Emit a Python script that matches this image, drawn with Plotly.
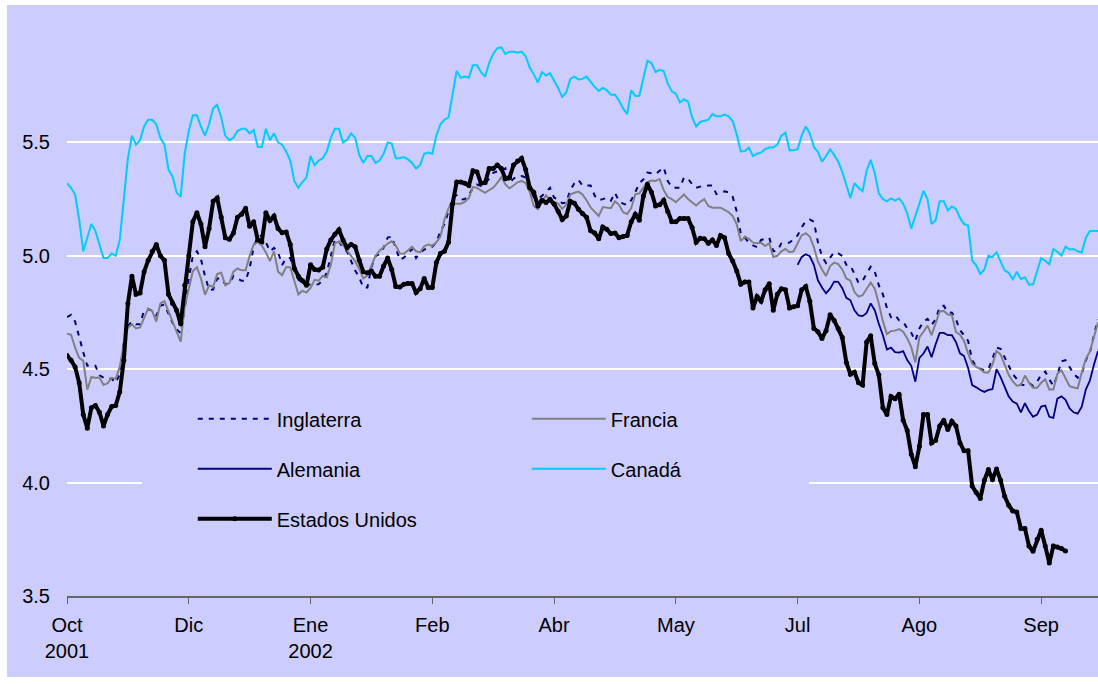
import plotly.graph_objects as go

# Category axis: one position per trading day, labelled every 30 days
meses = ["Oct<br>2001", "Dic", "Ene<br>2002", "Feb", "Abr", "May", "Jul", "Ago", "Sep"]
posiciones_meses = [0, 30, 60, 90, 120, 150, 180, 210, 240]

inglaterra = [
    4.73, 4.74, 4.71, 4.64, 4.575, 4.515, 4.52, 4.515, 4.473, 4.463,
    4.457, 4.458, 4.44, 4.48, 4.62, 4.69, 4.71, 4.698, 4.698, 4.76,
    4.764, 4.758, 4.735, 4.78, 4.785, 4.745, 4.705, 4.675, 4.66, 4.765,
    4.90, 5.00, 5.02, 4.985, 4.91, 4.85, 4.851, 4.90, 4.90, 4.874,
    4.88, 4.91, 4.90, 4.89, 4.89, 4.945, 5.04, 5.085, 5.09, 5.06,
    5.02, 5.035, 5.015, 4.96, 4.99, 4.99, 4.935, 4.895, 4.88, 4.877,
    4.872, 4.873, 4.875, 4.892, 4.925, 5.00, 5.072, 5.062, 5.037, 5.018,
    4.98, 4.935, 4.905, 4.86, 4.86, 4.95, 4.998, 5.008, 5.035, 5.08,
    5.085, 5.035, 4.982, 4.992, 5.013, 5.03, 4.99, 5.014, 5.027, 5.034,
    5.04, 5.06, 5.108, 5.14, 5.20, 5.255, 5.267, 5.247, 5.25, 5.268,
    5.30, 5.314, 5.308, 5.318, 5.34, 5.366, 5.372, 5.374, 5.386, 5.32,
    5.34, 5.352, 5.352, 5.345, 5.295, 5.258, 5.253, 5.264, 5.282, 5.30,
    5.256, 5.249, 5.232, 5.235, 5.29, 5.32, 5.335, 5.31, 5.31, 5.31,
    5.265, 5.245, 5.25, 5.256, 5.243, 5.278, 5.24, 5.23, 5.224, 5.245,
    5.28, 5.32, 5.337, 5.367, 5.364, 5.36, 5.375, 5.39, 5.33, 5.303,
    5.30, 5.30, 5.345, 5.34, 5.316, 5.30, 5.305, 5.308, 5.31, 5.31,
    5.272, 5.276, 5.284, 5.28, 5.26, 5.195, 5.097, 5.08, 5.057, 5.046,
    5.038, 5.07, 5.075, 5.08, 5.02, 5.022, 5.055, 5.056, 5.058, 5.073,
    5.09, 5.125, 5.153, 5.16, 5.15, 5.06, 4.997, 4.968, 4.99, 5.016,
    5.011, 5.00, 4.96, 4.957, 4.92, 4.88, 4.89, 4.92, 4.952, 4.93,
    4.87, 4.83, 4.77, 4.73, 4.74, 4.715, 4.71, 4.68, 4.66, 4.625,
    4.68, 4.71, 4.722, 4.695, 4.72, 4.775, 4.78, 4.751, 4.749, 4.72,
    4.672, 4.65, 4.625, 4.54, 4.51, 4.502, 4.495, 4.50, 4.547, 4.595,
    4.59, 4.553, 4.52, 4.478, 4.457, 4.43, 4.43, 4.44, 4.426, 4.445,
    4.475, 4.49, 4.455, 4.427, 4.475, 4.535, 4.54, 4.51, 4.48, 4.462,
    4.48, 4.54, 4.573, 4.65, 4.72,
]

francia = [
    4.657, 4.652, 4.595, 4.55, 4.537, 4.41, 4.465, 4.462, 4.463, 4.43,
    4.438, 4.462, 4.458, 4.51, 4.61, 4.683, 4.698, 4.68, 4.684, 4.73,
    4.768, 4.757, 4.71, 4.79, 4.80, 4.755, 4.708, 4.662, 4.622, 4.777,
    4.857, 4.932, 4.949, 4.90, 4.828, 4.87, 4.862, 4.92, 4.925, 4.87,
    4.88, 4.93, 4.944, 4.936, 4.936, 5.00, 5.05, 5.06, 5.045, 5.015,
    4.977, 5.02, 4.93, 4.915, 4.95, 4.95, 4.89, 4.83, 4.846, 4.838,
    4.858, 4.894, 4.89, 4.912, 4.905, 4.96, 5.055, 5.063, 5.048, 5.022,
    4.998, 4.975, 4.942, 4.90, 4.913, 4.955, 5.00, 5.022, 5.037, 5.054,
    5.064, 5.045, 5.01, 5.009, 5.024, 5.04, 5.02, 5.015, 5.042, 5.05,
    5.045, 5.06, 5.085, 5.16, 5.21, 5.232, 5.229, 5.23, 5.238, 5.255,
    5.303, 5.30, 5.288, 5.278, 5.29, 5.30, 5.322, 5.347, 5.315, 5.298,
    5.31, 5.324, 5.33, 5.32, 5.281, 5.22, 5.205, 5.238, 5.266, 5.248,
    5.236, 5.23, 5.207, 5.225, 5.27, 5.278, 5.283, 5.27, 5.245, 5.213,
    5.195, 5.176, 5.215, 5.214, 5.21, 5.24, 5.225, 5.192, 5.184, 5.21,
    5.271, 5.275, 5.30, 5.325, 5.332, 5.33, 5.338, 5.29, 5.259, 5.25,
    5.236, 5.252, 5.27, 5.25, 5.234, 5.222, 5.238, 5.25, 5.22, 5.212,
    5.212, 5.212, 5.203, 5.192, 5.175, 5.139, 5.065, 5.085, 5.075, 5.058,
    5.055, 5.058, 5.043, 5.056, 4.995, 5.00, 5.02, 5.03, 5.016, 5.02,
    5.055, 5.09, 5.10, 5.085, 5.038, 4.975, 4.94, 4.911, 4.955, 4.97,
    4.963, 4.94, 4.90, 4.89, 4.84, 4.82, 4.826, 4.856, 4.882, 4.855,
    4.79, 4.712, 4.655, 4.668, 4.67, 4.677, 4.665, 4.636, 4.597, 4.53,
    4.64, 4.665, 4.692, 4.65, 4.70, 4.755, 4.757, 4.741, 4.738, 4.664,
    4.652, 4.625, 4.57, 4.525, 4.51, 4.50, 4.485, 4.485, 4.52, 4.58,
    4.565, 4.52, 4.475, 4.446, 4.427, 4.43, 4.472, 4.44, 4.418, 4.418,
    4.44, 4.456, 4.41, 4.41, 4.48, 4.495, 4.46, 4.425, 4.419, 4.416,
    4.485, 4.545, 4.578, 4.64, 4.707,
]

# German series is only available from July onwards
alemania = [None] * 180 + [
    4.96, 4.995, 5.007, 4.998, 4.96, 4.892, 4.86, 4.835, 4.855, 4.886,
    4.885, 4.857, 4.815, 4.804, 4.76, 4.737, 4.734, 4.748, 4.79, 4.76,
    4.70, 4.65, 4.587, 4.595, 4.575, 4.573, 4.58, 4.54, 4.515, 4.445,
    4.55, 4.569, 4.60, 4.553, 4.61, 4.66, 4.66, 4.65, 4.65, 4.62,
    4.57, 4.558, 4.505, 4.43, 4.42, 4.408, 4.40, 4.409, 4.412, 4.50,
    4.465, 4.425, 4.38, 4.357, 4.348, 4.31, 4.35, 4.316, 4.29, 4.30,
    4.335, 4.34, 4.29, 4.285, 4.37, 4.38, 4.365, 4.327, 4.31, 4.304,
    4.335, 4.41, 4.45, 4.52, 4.58,
]

canada = [
    5.32, 5.30, 5.27, 5.16, 5.02, 5.08, 5.14, 5.11, 5.05, 4.99,
    4.99, 5.01, 5.00, 5.07, 5.25, 5.43, 5.53, 5.49, 5.51, 5.57,
    5.60, 5.60, 5.58, 5.52, 5.49, 5.38, 5.35, 5.28, 5.26, 5.45,
    5.55, 5.62, 5.62, 5.57, 5.53, 5.58, 5.65, 5.665, 5.61, 5.53,
    5.51, 5.52, 5.55, 5.56, 5.56, 5.54, 5.555, 5.48, 5.48, 5.56,
    5.51, 5.54, 5.50, 5.49, 5.46, 5.42, 5.33, 5.30, 5.325, 5.345,
    5.44, 5.40, 5.42, 5.43, 5.46, 5.52, 5.56, 5.56, 5.50, 5.51,
    5.54, 5.52, 5.445, 5.41, 5.44, 5.44, 5.41, 5.42, 5.45, 5.50,
    5.495, 5.43, 5.43, 5.435, 5.425, 5.41, 5.385, 5.40, 5.45, 5.455,
    5.45, 5.53, 5.58, 5.60, 5.61, 5.71, 5.815, 5.785, 5.79, 5.785,
    5.84, 5.84, 5.81, 5.79, 5.85, 5.89, 5.915, 5.92, 5.89, 5.90,
    5.90, 5.895, 5.90, 5.88, 5.83, 5.80, 5.765, 5.81, 5.795, 5.805,
    5.775, 5.74, 5.70, 5.72, 5.78, 5.79, 5.778, 5.78, 5.79, 5.765,
    5.745, 5.727, 5.74, 5.73, 5.71, 5.71, 5.685, 5.65, 5.625, 5.73,
    5.705, 5.706, 5.79, 5.86, 5.85, 5.81, 5.82, 5.815, 5.76, 5.725,
    5.715, 5.676, 5.69, 5.68, 5.61, 5.57, 5.59, 5.595, 5.60, 5.625,
    5.615, 5.615, 5.623, 5.615, 5.594, 5.535, 5.46, 5.462, 5.477, 5.44,
    5.45, 5.455, 5.47, 5.477, 5.477, 5.49, 5.53, 5.543, 5.465, 5.465,
    5.47, 5.53, 5.57, 5.54, 5.48, 5.458, 5.415, 5.44, 5.47, 5.445,
    5.415, 5.37, 5.31, 5.255, 5.32, 5.30, 5.285, 5.375, 5.423, 5.365,
    5.275, 5.25, 5.24, 5.253, 5.243, 5.253, 5.23, 5.187, 5.12, 5.18,
    5.23, 5.287, 5.25, 5.14, 5.157, 5.24, 5.24, 5.20, 5.217, 5.207,
    5.167, 5.14, 5.134, 4.98, 4.957, 4.92, 4.94, 5.00, 4.995, 5.015,
    4.978, 4.936, 4.925, 4.897, 4.93, 4.898, 4.904, 4.873, 4.873, 4.933,
    4.99, 4.978, 4.963, 5.03, 5.018, 5.001, 5.04, 5.028, 5.03, 5.02,
    5.015, 5.08, 5.109, 5.109, 5.109,
]

estados_unidos = [
    4.56, 4.54, 4.51, 4.44, 4.30, 4.24, 4.33, 4.34, 4.31, 4.25,
    4.30, 4.335, 4.34, 4.40, 4.54, 4.79, 4.91, 4.83, 4.836, 4.93,
    4.98, 5.02, 5.05, 5.00, 4.98, 4.83, 4.79, 4.76, 4.70, 4.87,
    5.00, 5.15, 5.19, 5.14, 5.04, 5.12, 5.24, 5.255, 5.17, 5.08,
    5.073, 5.10, 5.17, 5.183, 5.21, 5.13, 5.15, 5.07, 5.062, 5.19,
    5.156, 5.175, 5.12, 5.102, 5.105, 5.05, 4.945, 4.91, 4.89, 4.87,
    4.96, 4.94, 4.937, 4.95, 5.03, 5.07, 5.095, 5.115, 5.07, 5.036,
    5.05, 5.04, 4.98, 4.93, 4.925, 4.933, 4.91, 4.91, 4.955, 4.99,
    4.94, 4.865, 4.862, 4.875, 4.878, 4.878, 4.838, 4.855, 4.90, 4.86,
    4.86, 4.97, 5.01, 5.02, 5.06, 5.23, 5.325, 5.325, 5.32, 5.31,
    5.375, 5.37, 5.32, 5.322, 5.385, 5.385, 5.40, 5.385, 5.34, 5.344,
    5.40, 5.418, 5.43, 5.38, 5.30, 5.28, 5.22, 5.245, 5.235, 5.248,
    5.228, 5.196, 5.16, 5.175, 5.24, 5.232, 5.205, 5.186, 5.17, 5.11,
    5.10, 5.075, 5.127, 5.117, 5.098, 5.10, 5.08, 5.085, 5.09, 5.15,
    5.183, 5.157, 5.264, 5.315, 5.28, 5.22, 5.225, 5.245, 5.195, 5.15,
    5.15, 5.165, 5.165, 5.164, 5.125, 5.06, 5.077, 5.075, 5.055, 5.07,
    5.045, 5.09, 5.08, 5.01, 4.977, 4.933, 4.875, 4.885, 4.884, 4.77,
    4.82, 4.80, 4.85, 4.877, 4.76, 4.83, 4.855, 4.85, 4.77, 4.775,
    4.78, 4.85, 4.865, 4.80, 4.68, 4.665, 4.635, 4.67, 4.74, 4.715,
    4.68, 4.64, 4.53, 4.478, 4.487, 4.44, 4.43, 4.62, 4.647, 4.525,
    4.475, 4.33, 4.30, 4.38, 4.37, 4.39, 4.275, 4.23, 4.125, 4.07,
    4.16, 4.30, 4.30, 4.175, 4.186, 4.25, 4.275, 4.234, 4.27, 4.25,
    4.175, 4.14, 4.14, 3.985, 3.956, 3.93, 4.01, 4.058, 4.013, 4.06,
    4.01, 3.94, 3.90, 3.875, 3.87, 3.798, 3.798, 3.72, 3.697, 3.75,
    3.79, 3.72, 3.645, 3.72, 3.716, 3.709, 3.698,
]

BG = "#CCCCFF"
FONT = "Liberation Sans, Arial, sans-serif"

fig = go.Figure()


def add_series(values, name, line, legend, marker=None):
    mode = "lines+markers" if marker else "lines"
    fig.add_trace(go.Scatter(
        x=list(range(len(values))), y=values, name=name, mode=mode,
        line=line, marker=marker, legend=legend, legendgroup=name,
        connectgaps=False, hoverinfo="x+y+name",
    ))


add_series(inglaterra, "Inglaterra", dict(color="#000080", width=2, dash="5px,6px"), "legend")
add_series(alemania, "Alemania", dict(color="#000080", width=1.8), "legend")
add_series(francia, "Francia", dict(color="#808080", width=2), "legend2")
add_series(canada, "Canadá", dict(color="#00CCFF", width=2), "legend2")
add_series(estados_unidos, "Estados Unidos", dict(color="black", width=4), "legend",
           marker=dict(symbol="circle", size=5, color="black"))

legend_common = dict(
    xanchor="left", yanchor="top", bgcolor=BG, borderwidth=0,
    itemwidth=74, tracegroupgap=21, font=dict(family=FONT, size=20, color="black"),
    itemclick=False, itemdoubleclick=False,
)

fig.update_layout(
    width=1098, height=684,
    margin=dict(l=67, r=0, t=29, b=88),
    paper_bgcolor="white", plot_bgcolor=BG,
    font=dict(family=FONT, size=20, color="black"),
    showlegend=True,
    xaxis=dict(
        range=[0, 254], tickmode="array", tickvals=posiciones_meses, ticktext=meses,
        showgrid=False, zeroline=False, showline=True, linecolor="#666666", linewidth=1.5,
        ticks="outside", ticklen=6, tickwidth=1.2, tickcolor="#666666",
        ticklabelstandoff=4,
        tickfont=dict(family=FONT, size=20, color="black"),
    ),
    yaxis=dict(
        range=[3.5, 6.0], tickmode="array", tickvals=[3.5, 4.0, 4.5, 5.0, 5.5], tickformat=".1f",
        showgrid=True, gridcolor="white", gridwidth=1.5, zeroline=False, showline=False,
        ticks="", ticklabelstandoff=16,
        tickfont=dict(family=FONT, size=20, color="black"),
    ),
    legend=dict(x=0.122, y=0.347, **legend_common),
    legend2=dict(x=0.446, y=0.347, **legend_common),
    shapes=[
        # lavender chart panel framed by a thin white border
        dict(type="rect", xref="paper", yref="paper", x0=-0.0582, x1=1.0, y0=-0.1429, y1=1.0423,
             fillcolor=BG, line=dict(width=0), layer="below"),
        # legend panel
        dict(type="rect", xref="paper", yref="paper", x0=0.0727, x1=0.7197, y0=0.09, y1=0.354,
             fillcolor=BG, line=dict(width=0), layer="above"),
    ],
)

fig.write_html("out.html")
